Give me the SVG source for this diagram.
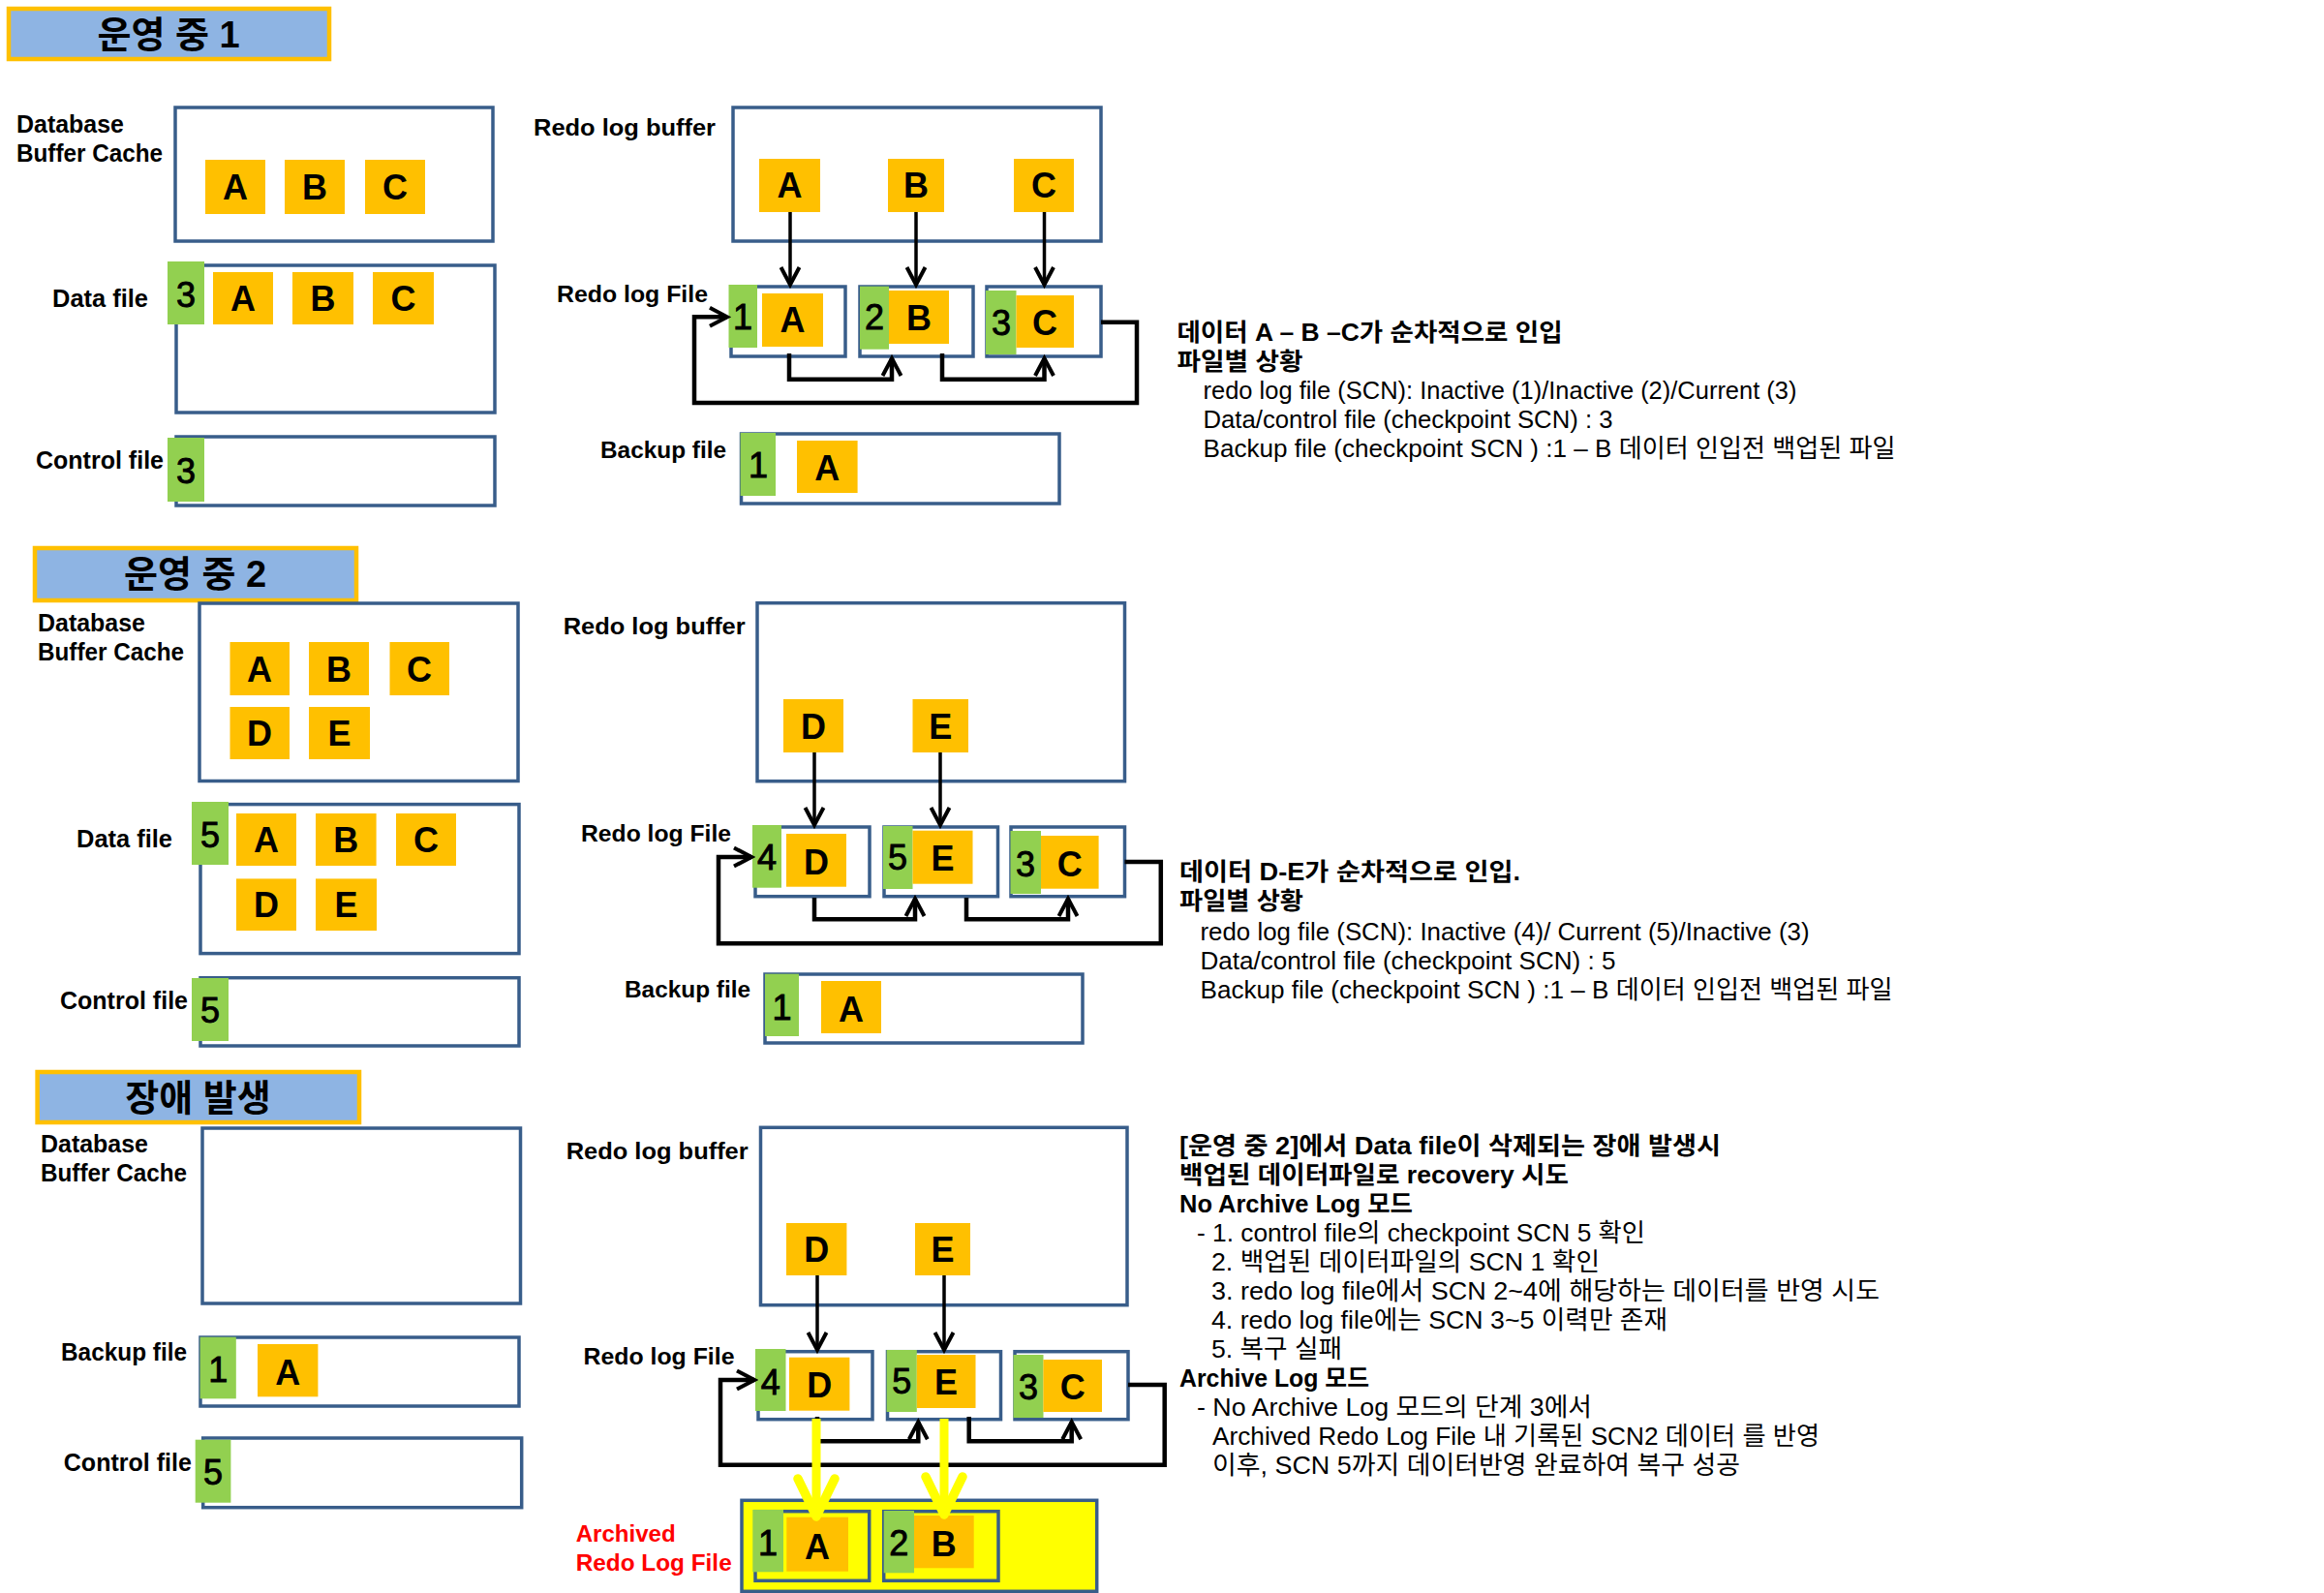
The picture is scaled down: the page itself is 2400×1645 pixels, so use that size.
<svg xmlns="http://www.w3.org/2000/svg" width="2400" height="1645" viewBox="0 0 2400 1645">
<style>
text{font-family:"Liberation Sans","Noto Sans CJK KR",sans-serif;fill:#000}
.box{fill:#fff;stroke:#385D8A;stroke-width:3.5}
.abox{fill:#FFFF00;stroke:#385D8A;stroke-width:3.5}
.ibox{fill:none;stroke:#385D8A;stroke-width:3.5}
.ttl{fill:#8EB4E3;stroke:#FFC000;stroke-width:4.5}
.y{fill:#FFC000}
.g{fill:#92D050}
.tt{font-size:38px;font-weight:bold;text-anchor:middle}
.lb{font-size:25px;font-weight:bold}
.ml{font-size:24px;font-weight:bold}
.ltr{font-size:36px;font-weight:bold;text-anchor:middle}
.dg{font-size:36px;text-anchor:middle;stroke:#000;stroke-width:0.9}
.rb{font-size:25px;font-weight:bold}
.rr{font-size:26px}
.red{fill:#FF0000}
.ln{fill:none;stroke:#000;stroke-width:3.5}
.lp{fill:none;stroke:#000;stroke-width:4.5}
.yl{fill:none;stroke:#FFFF00;stroke-width:9}
</style>
<defs>
<marker id="ah" markerUnits="userSpaceOnUse" viewBox="0 0 24 24" markerWidth="24" markerHeight="24" refX="20" refY="12" orient="auto"><path d="M2,2.5 L20,12 L2,21.5" fill="none" stroke="#000" stroke-width="4"/></marker>
<marker id="ahy" markerUnits="userSpaceOnUse" viewBox="0 0 60 60" markerWidth="60" markerHeight="60" refX="50" refY="30" orient="auto"><path d="M11,11 L50,30 L11,49" fill="none" stroke="#FFFF00" stroke-width="9.5" stroke-linecap="round" stroke-linejoin="round"/></marker>
</defs>
<rect width="2400" height="1645" fill="#fff"/>

<!-- ===== SECTION 1 ===== -->
<g id="s1-title"><rect class="ttl" x="9" y="9" width="331" height="52"/><text class="tt" x="174" y="49">운영 중 1</text></g>
<g id="s1-dbcache">
<text class="lb" x="17" y="137" textLength="111" lengthAdjust="spacingAndGlyphs">Database</text>
<text class="lb" x="17" y="167" textLength="151" lengthAdjust="spacingAndGlyphs">Buffer Cache</text>
<rect class="box" x="181" y="111" width="328" height="138"/>
<rect class="y" x="212" y="165" width="62" height="56"/><text class="ltr" x="243" y="206">A</text>
<rect class="y" x="294" y="165" width="62" height="56"/><text class="ltr" x="325" y="206">B</text>
<rect class="y" x="377" y="165" width="62" height="56"/><text class="ltr" x="408" y="206">C</text>
</g>
<g id="s1-datafile">
<text class="lb" x="54" y="317" textLength="99" lengthAdjust="spacingAndGlyphs">Data file</text>
<rect class="box" x="182" y="274" width="329" height="152"/>
<rect class="g" x="173" y="270" width="38" height="65"/><text class="dg" x="192" y="317">3</text>
<rect class="y" x="220" y="281" width="62" height="54"/><text class="ltr" x="251" y="321">A</text>
<rect class="y" x="302" y="281" width="63" height="54"/><text class="ltr" x="333.5" y="321">B</text>
<rect class="y" x="385" y="281" width="63" height="54"/><text class="ltr" x="416.5" y="321">C</text>
</g>
<g id="s1-controlfile">
<text class="lb" x="37" y="484" textLength="132" lengthAdjust="spacingAndGlyphs">Control file</text>
<rect class="box" x="182" y="451" width="329" height="71"/>
<rect class="g" x="173" y="452" width="38" height="66"/><text class="dg" x="192" y="499">3</text>
</g>
<g id="s1-redobuffer">
<text class="ml" x="551" y="140" textLength="188" lengthAdjust="spacingAndGlyphs">Redo log buffer</text>
<rect class="box" x="757" y="111" width="380" height="138"/>
<rect class="y" x="784" y="164" width="63" height="55"/><text class="ltr" x="815.5" y="204">A</text>
<rect class="y" x="917" y="164" width="58" height="55"/><text class="ltr" x="946" y="204">B</text>
<rect class="y" x="1047" y="164" width="62" height="55"/><text class="ltr" x="1078" y="204">C</text>
</g>
<g id="s1-redofile">
<text class="ml" x="575" y="312" textLength="156" lengthAdjust="spacingAndGlyphs">Redo log File</text>
</g>
<g id="s1-redo1"><rect class="box" x="755" y="296" width="118" height="72"/><rect class="g" x="752.5" y="294" width="29.5" height="65"/><text class="dg" x="767" y="340">1</text><rect class="y" x="787" y="303" width="63" height="55"/><text class="ltr" x="818.5" y="343">A</text></g>
<g id="s1-redo2"><rect class="box" x="888" y="296" width="117" height="72"/><rect class="g" x="888" y="295.7" width="30" height="65"/><text class="dg" x="903" y="340">2</text><rect class="y" x="918" y="300" width="62" height="55"/><text class="ltr" x="949" y="341">B</text></g>
<g id="s1-redo3"><rect class="box" x="1019" y="296" width="118" height="72"/><rect class="g" x="1018" y="300" width="31.5" height="66"/><text class="dg" x="1034" y="346">3</text><rect class="y" x="1049.5" y="305" width="59.5" height="54"/><text class="ltr" x="1079" y="346">C</text></g>
<g id="s1-backup">
<text class="ml" x="620" y="473" textLength="130" lengthAdjust="spacingAndGlyphs">Backup file</text>
<rect class="box" x="765.5" y="448" width="328.5" height="72"/>
<rect class="g" x="764.6" y="447" width="36.4" height="65"/><text class="dg" x="783" y="493">1</text>
<rect class="y" x="823" y="455" width="62.6" height="54"/><text class="ltr" x="854.3" y="496">A</text>
</g>
<g id="s1-note">
<text class="rb" x="1215.5" y="352" textLength="398" lengthAdjust="spacingAndGlyphs">데이터 A – B –C가 순차적으로 인입</text>
<text class="rb" x="1215.5" y="382" textLength="130" lengthAdjust="spacingAndGlyphs">파일별 상황</text>
<text class="rr" x="1242.5" y="412" textLength="613" lengthAdjust="spacingAndGlyphs">redo log file (SCN): Inactive (1)/Inactive (2)/Current (3)</text>
<text class="rr" x="1242.5" y="442" textLength="423" lengthAdjust="spacingAndGlyphs">Data/control file (checkpoint SCN) : 3</text>
<text class="rr" x="1242.5" y="472" textLength="715" lengthAdjust="spacingAndGlyphs">Backup file (checkpoint SCN ) :1 – B 데이터 인입전 백업된 파일</text>
</g>

<!-- ===== SECTION 2 ===== -->
<g id="s2-title"><rect class="ttl" x="36" y="566" width="332" height="54"/><text class="tt" x="201.5" y="606">운영 중 2</text></g>
<g id="s2-dbcache">
<text class="lb" x="39" y="652" textLength="111" lengthAdjust="spacingAndGlyphs">Database</text>
<text class="lb" x="39" y="682" textLength="151" lengthAdjust="spacingAndGlyphs">Buffer Cache</text>
<rect class="box" x="206" y="623" width="329" height="183.5"/>
<rect class="y" x="237.5" y="663" width="61.5" height="55"/><text class="ltr" x="268" y="703.5">A</text>
<rect class="y" x="319" y="663" width="62" height="55"/><text class="ltr" x="350" y="703.5">B</text>
<rect class="y" x="402.5" y="663" width="61.5" height="55"/><text class="ltr" x="433" y="703.5">C</text>
<rect class="y" x="237.5" y="730" width="61.5" height="54"/><text class="ltr" x="268" y="770">D</text>
<rect class="y" x="319" y="730" width="63" height="54"/><text class="ltr" x="350.5" y="770">E</text>
</g>
<g id="s2-datafile">
<text class="lb" x="79" y="875" textLength="99" lengthAdjust="spacingAndGlyphs">Data file</text>
<rect class="box" x="207" y="830.6" width="329" height="154"/>
<rect class="g" x="198" y="828" width="38" height="65"/><text class="dg" x="217" y="875">5</text>
<rect class="y" x="244" y="840" width="62" height="54"/><text class="ltr" x="275" y="880">A</text>
<rect class="y" x="326" y="840" width="62.6" height="54"/><text class="ltr" x="357.3" y="880">B</text>
<rect class="y" x="409" y="840" width="62" height="54"/><text class="ltr" x="440" y="880">C</text>
<rect class="y" x="244" y="907.4" width="62" height="53.6"/><text class="ltr" x="275" y="947">D</text>
<rect class="y" x="326" y="907.4" width="63" height="53.6"/><text class="ltr" x="357.5" y="947">E</text>
</g>
<g id="s2-controlfile">
<text class="lb" x="62" y="1042" textLength="132" lengthAdjust="spacingAndGlyphs">Control file</text>
<rect class="box" x="207" y="1009.7" width="329" height="70.3"/>
<rect class="g" x="198" y="1010" width="38" height="65"/><text class="dg" x="217" y="1056">5</text>
</g>
<g id="s2-redobuffer">
<text class="ml" x="581.7" y="655" textLength="188" lengthAdjust="spacingAndGlyphs">Redo log buffer</text>
<rect class="box" x="782" y="622.7" width="379.5" height="184"/>
<rect class="y" x="809" y="722" width="62" height="55"/><text class="ltr" x="840" y="762.5">D</text>
<rect class="y" x="942.5" y="722" width="57.5" height="55"/><text class="ltr" x="971.3" y="762.5">E</text>
</g>
<g id="s2-redofile">
<text class="ml" x="600" y="869" textLength="155" lengthAdjust="spacingAndGlyphs">Redo log File</text>
</g>
<g id="s2-redo1"><rect class="box" x="780" y="854" width="118" height="71.7"/><rect class="g" x="777" y="852" width="30" height="64.7"/><text class="dg" x="792" y="898">4</text><rect class="y" x="812" y="861" width="62" height="54.7"/><text class="ltr" x="843" y="903">D</text></g>
<g id="s2-redo2"><rect class="box" x="913" y="854" width="117.5" height="71.7"/><rect class="g" x="912" y="853" width="30.5" height="65"/><text class="dg" x="927" y="898">5</text><rect class="y" x="942.5" y="857.7" width="62" height="55"/><text class="ltr" x="973.5" y="899">E</text></g>
<g id="s2-redo3"><rect class="box" x="1044" y="854" width="117.5" height="71.7"/><rect class="g" x="1043.5" y="858" width="31.5" height="65"/><text class="dg" x="1059" y="905">3</text><rect class="y" x="1075" y="863" width="59.6" height="54.7"/><text class="ltr" x="1104.8" y="905">C</text></g>
<g id="s2-backup">
<text class="ml" x="645" y="1030" textLength="130" lengthAdjust="spacingAndGlyphs">Backup file</text>
<rect class="box" x="790" y="1006" width="328" height="71"/>
<rect class="g" x="790" y="1005.7" width="35" height="64.3"/><text class="dg" x="807.5" y="1053">1</text>
<rect class="y" x="848" y="1013" width="62" height="54"/><text class="ltr" x="879" y="1055">A</text>
</g>
<g id="s2-note">
<text class="rb" x="1218" y="909" textLength="352" lengthAdjust="spacingAndGlyphs">데이터 D-E가 순차적으로 인입.</text>
<text class="rb" x="1218" y="939" textLength="128" lengthAdjust="spacingAndGlyphs">파일별 상황</text>
<text class="rr" x="1239.5" y="971" textLength="629" lengthAdjust="spacingAndGlyphs">redo log file (SCN): Inactive (4)/ Current (5)/Inactive (3)</text>
<text class="rr" x="1239.5" y="1001" textLength="429" lengthAdjust="spacingAndGlyphs">Data/control file (checkpoint SCN) : 5</text>
<text class="rr" x="1239.5" y="1031" textLength="715" lengthAdjust="spacingAndGlyphs">Backup file (checkpoint SCN ) :1 – B 데이터 인입전 백업된 파일</text>
</g>

<!-- ===== SECTION 3 ===== -->
<g id="s3-title"><rect class="ttl" x="38.6" y="1107" width="332.4" height="52"/><text class="tt" x="204.5" y="1147">장애 발생</text></g>
<g id="s3-dbcache">
<text class="lb" x="42" y="1190" textLength="111" lengthAdjust="spacingAndGlyphs">Database</text>
<text class="lb" x="42" y="1220" textLength="151" lengthAdjust="spacingAndGlyphs">Buffer Cache</text>
<rect class="box" x="209" y="1165" width="328.5" height="181"/>
</g>
<g id="s3-backup">
<text class="lb" x="63" y="1405" textLength="130" lengthAdjust="spacingAndGlyphs">Backup file</text>
<rect class="box" x="207" y="1381" width="329" height="71"/>
<rect class="g" x="206.6" y="1380.7" width="37.2" height="63.6"/><text class="dg" x="225.2" y="1427">1</text>
<rect class="y" x="266" y="1388" width="62.4" height="54.3"/><text class="ltr" x="297.2" y="1429.5">A</text>
</g>
<g id="s3-controlfile">
<text class="lb" x="65.8" y="1519" textLength="132" lengthAdjust="spacingAndGlyphs">Control file</text>
<rect class="box" x="209.7" y="1485" width="329" height="71.7"/>
<rect class="g" x="201.7" y="1486.7" width="36.7" height="65"/><text class="dg" x="220" y="1533">5</text>
</g>
<g id="s3-redobuffer">
<text class="ml" x="584.7" y="1197" textLength="188" lengthAdjust="spacingAndGlyphs">Redo log buffer</text>
<rect class="box" x="785.5" y="1164.3" width="378.5" height="183.4"/>
<rect class="y" x="812" y="1263" width="62.4" height="54"/><text class="ltr" x="843.2" y="1303">D</text>
<rect class="y" x="945" y="1263" width="57" height="54"/><text class="ltr" x="973.5" y="1303">E</text>
</g>
<g id="s3-redofile">
<text class="ml" x="602.5" y="1409" textLength="156" lengthAdjust="spacingAndGlyphs">Redo log File</text>
</g>
<g id="s3-redo1"><rect class="box" x="783" y="1395.7" width="118" height="70"/><rect class="g" x="780" y="1393" width="31.5" height="64"/><text class="dg" x="795.7" y="1440">4</text><rect class="y" x="815" y="1401.7" width="62.4" height="55"/><text class="ltr" x="846.2" y="1443">D</text></g>
<g id="s3-redo2"><rect class="box" x="916.5" y="1395.7" width="117" height="70"/><rect class="g" x="915.6" y="1394" width="31.2" height="64"/><text class="dg" x="931.2" y="1439">5</text><rect class="y" x="946.8" y="1399" width="60.7" height="55"/><text class="ltr" x="977.1" y="1440">E</text></g>
<g id="s3-redo3"><rect class="box" x="1048" y="1395.7" width="117" height="70"/><rect class="g" x="1046.5" y="1399" width="31" height="65"/><text class="dg" x="1062" y="1445">3</text><rect class="y" x="1077.4" y="1404" width="60.6" height="54"/><text class="ltr" x="1107.7" y="1445">C</text></g>
<g id="s3-archived">
<text class="ml red" x="594.7" y="1592" textLength="103" lengthAdjust="spacingAndGlyphs">Archived</text>
<text class="ml red" x="594.7" y="1622" textLength="161" lengthAdjust="spacingAndGlyphs">Redo Log File</text>
<rect class="abox" x="766" y="1549.3" width="366.7" height="94"/>
<rect class="ibox" x="780" y="1560.7" width="117.7" height="71.6"/>
<rect class="g" x="777.3" y="1559" width="31.7" height="64.3"/><text class="dg" x="793" y="1606">1</text>
<rect class="y" x="812.3" y="1566.7" width="63.7" height="56"/><text class="ltr" x="844" y="1610">A</text>
<rect class="ibox" x="912.7" y="1560.7" width="118.3" height="71.6"/>
<rect class="g" x="912.7" y="1560" width="31.3" height="64.3"/><text class="dg" x="928.3" y="1606">2</text>
<rect class="y" x="944" y="1565" width="61.7" height="54.3"/><text class="ltr" x="974.8" y="1606.5">B</text>
</g>
<g id="s3-note">
<text class="rb" x="1218" y="1192" textLength="559" lengthAdjust="spacingAndGlyphs">[운영 중 2]에서 Data file이 삭제되는 장애 발생시</text>
<text class="rb" x="1218" y="1222" textLength="402" lengthAdjust="spacingAndGlyphs">백업된 데이터파일로 recovery 시도</text>
<text class="rb" x="1218" y="1252" textLength="241" lengthAdjust="spacingAndGlyphs">No Archive Log 모드</text>
<text class="rr" x="1236" y="1282" textLength="463" lengthAdjust="spacingAndGlyphs">- 1. control file의 checkpoint SCN 5 확인</text>
<text class="rr" x="1251" y="1312" textLength="401" lengthAdjust="spacingAndGlyphs">2. 백업된 데이터파일의 SCN 1 확인</text>
<text class="rr" x="1251" y="1342" textLength="690" lengthAdjust="spacingAndGlyphs">3. redo log file에서 SCN 2~4에 해당하는 데이터를 반영 시도</text>
<text class="rr" x="1251" y="1372" textLength="471" lengthAdjust="spacingAndGlyphs">4. redo log file에는 SCN 3~5 이력만 존재</text>
<text class="rr" x="1251" y="1402" textLength="135" lengthAdjust="spacingAndGlyphs">5. 복구 실패</text>
<text class="rb" x="1218" y="1432" textLength="196" lengthAdjust="spacingAndGlyphs">Archive Log 모드</text>
<text class="rr" x="1236" y="1462" textLength="408" lengthAdjust="spacingAndGlyphs">- No Archive Log 모드의 단계 3에서</text>
<text class="rr" x="1252" y="1492" textLength="627" lengthAdjust="spacingAndGlyphs">Archived Redo Log File 내 기록된 SCN2 데이터 를 반영</text>
<text class="rr" x="1252" y="1522" textLength="545" lengthAdjust="spacingAndGlyphs">이후, SCN 5까지 데이터반영 완료하여 복구 성공</text>
</g>

<!-- ===== CONNECTORS ===== -->
<g id="connectors">
<path class="ln" d="M816,219 V294" marker-end="url(#ah)"/>
<path class="ln" d="M946,219 V294" marker-end="url(#ah)"/>
<path class="ln" d="M1078.5,219 V294" marker-end="url(#ah)"/>
<path class="lp" d="M815,365 V391.7 H921 V370" marker-end="url(#ah)"/>
<path class="lp" d="M973,365 V391.7 H1078.5 V370" marker-end="url(#ah)"/>
<path class="lp" d="M1137,332.7 H1174 V416 H717 V327.3 H751" marker-end="url(#ah)"/>

<path class="ln" d="M841,777 V852" marker-end="url(#ah)"/>
<path class="ln" d="M971,777 V852" marker-end="url(#ah)"/>
<path class="lp" d="M841,927 V949.3 H945 V928" marker-end="url(#ah)"/>
<path class="lp" d="M998,927 V949.3 H1103 V928" marker-end="url(#ah)"/>
<path class="lp" d="M1161.5,890 H1198.8 V974.3 H742 V885 H776" marker-end="url(#ah)"/>

<path class="ln" d="M844,1317 V1394" marker-end="url(#ah)"/>
<path class="ln" d="M975,1317 V1394" marker-end="url(#ah)"/>
<path class="lp" d="M844,1463 V1488.3 H948.3 V1468.3" marker-end="url(#ah)"/>
<path class="lp" d="M1000.7,1463 V1488.3 H1106.7 V1468.3" marker-end="url(#ah)"/>
<path class="lp" d="M1165,1430 H1202.7 V1512.7 H744 V1425 H779" marker-end="url(#ah)"/>
<path class="yl" d="M843,1465 V1566" marker-end="url(#ahy)"/>
<path class="yl" d="M975,1465 V1564" marker-end="url(#ahy)"/>
</g>
</svg>
